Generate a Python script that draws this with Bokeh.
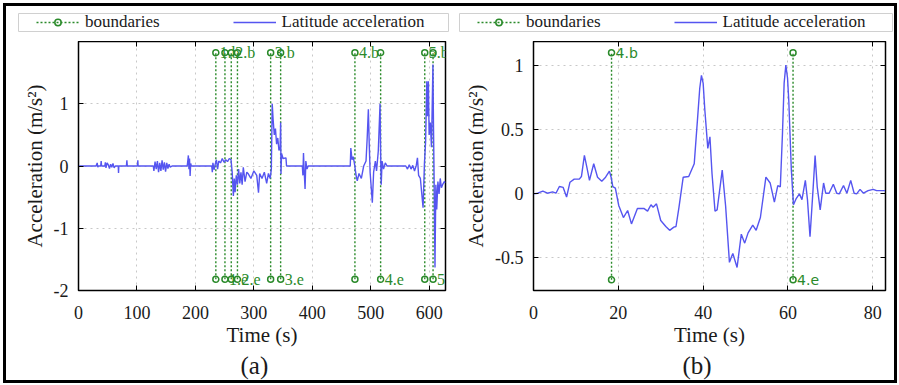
from bokeh.plotting import figure
from bokeh.models import (Range1d, FixedTicker, LinearAxis, Legend, LegendItem,
                          Label, CustomJSTickFormatter, Title)
from bokeh.layouts import row, column
from bokeh.embed import file_html
from bokeh.resources import INLINE

# ---------------- data ----------------
time_a = [0, 30, 32, 33, 34, 38, 38.8, 39.5, 45, 46, 47, 49, 51, 53, 55, 57, 59, 61, 63,
          68, 68.5, 69, 82, 82.8, 83.5, 101, 101.5, 102, 128, 129, 131, 133, 135, 137, 139,
          141, 143, 145, 147, 149, 151, 153, 155, 157, 160, 186, 187, 188, 189, 190, 191,
          192, 193, 228, 229, 230, 232, 234, 236, 238, 240, 243, 246, 249, 252, 255, 258,
          261, 263, 265, 266.5, 268, 270, 272, 274, 276, 278, 280, 282, 285, 288, 290, 295,
          300, 305, 308, 310, 314, 318, 322, 325, 328, 330, 331.5, 333, 335, 337, 339, 341,
          343, 345, 345.9, 346.5, 347.5, 350, 355, 356, 383, 384, 385, 386, 387.7, 389, 391,
          393, 465, 466, 468, 470, 472, 475, 477, 480, 484, 488, 492, 494, 496, 497.5, 499,
          502.8, 505, 508, 510, 513, 516, 517, 518, 519.5, 522, 525, 528, 560, 563, 566, 569,
          572, 575, 578, 580, 582, 585, 589.6, 592, 594, 596, 597, 598.7, 600, 602, 604,
          606.5, 607.5, 608.5, 610, 611.5, 613, 615, 617, 619, 621, 623, 626, 628]
accel_a = [0, 0, 0.05, -0.02, 0, 0, 0.08, 0, 0, 0.06, -0.03, 0.05, 0.02, -0.04, 0.03, -0.02,
           0.04, -0.03, 0, 0, -0.11, 0, 0, 0.09, 0, 0, 0.09, 0, 0, -0.08, 0.07, -0.05, 0.08,
           -0.1, 0.05, -0.08, 0.09, -0.06, 0.06, -0.09, 0.05, -0.04, 0.03, -0.02, 0, 0, 0.08,
           0.17, -0.05, 0.12, -0.16, 0.04, 0, 0, -0.1, 0.05, -0.06, 0.03, 0.1, -0.05, 0.08,
           0.05, 0.12, 0.06, 0.1, 0.07, 0.12, 0.1, -0.1, -0.48, -0.2, -0.42, -0.15, -0.3,
           -0.05, -0.28, -0.1, -0.3, -0.02, -0.25, -0.1, -0.12, -0.2, -0.08, -0.15, -0.43,
           -0.12, -0.2, -0.1, -0.28, -0.12, -0.2, -0.05, 1.0, 0.75, 0.5, 0.6, 0.35, 0.45,
           0.25, 0.3, 0.7, -0.13, 0.2, 0.12, 0.13, 0, 0, -0.15, 0.21, -0.05, -0.37, 0.08,
           -0.05, 0, 0, 0.29, 0.1, 0.15, 0.05, -0.15, -0.24, -0.12, -0.2, 0, 0.08, 0.45, 0.91,
           0.35, -0.1, -0.59, -0.1, 0.08, -0.08, 0.24, 1.0, 0.2, -0.3, 0.08, -0.05, 0.05, 0,
           0, -0.05, 0.02, -0.05, 0.01, -0.08, 0.01, 0.13, -0.15, -0.2, -0.67, 0.05, 0.4,
           1.36, 0.8, 1.36, 0.5, 0.7, 0.3, 1.63, 0.6, -0.2, -1.63, -0.3, -0.7, -0.25, -0.45,
           -0.2, -0.35, -0.3, -0.25, -0.27]

time_b = [0, 1, 2.2, 3.3, 4.5, 5.3, 6.1, 7.0, 7.8, 8.6, 9.6, 10.8, 11.3, 12.0, 12.6, 13.2,
          14.2, 15.1, 16.1, 17.0, 17.9, 18.3, 18.7, 19.3, 20.1, 21.2, 22.2, 23.1, 24.5, 26.1,
          26.9, 27.7, 28.2, 29.0, 30.0, 31.2, 32.1, 33.1, 33.6, 34.3, 35.3, 36.6, 37.9, 38.7,
          39.2, 39.6, 40.0, 40.4, 41.1, 41.6, 42.1, 42.8, 43.3, 44.5, 45.3, 46.2, 47.0, 48.0,
          49.0, 49.8, 50.6, 51.7, 52.5, 53.5, 54.8, 55.8, 56.8, 57.6, 58.2, 58.7, 59.1, 59.5,
          59.9, 60.2, 60.8, 61.3, 61.9, 62.7, 63.3, 64.1, 64.6, 65.2, 65.9, 66.4, 66.9, 67.6,
          68.4, 68.9, 69.7, 70.7, 71.5, 72.1, 73.1, 73.9, 74.8, 75.6, 76.2, 77.0, 77.8, 78.9,
          80.1, 80.9, 82.1, 82.9]
accel_b = [-0.005, 0.0, 0.016, 0.0, 0.01, 0.0, 0.052, 0.045, -0.03, 0.086, 0.11, 0.11, 0.13,
           0.295, 0.2, 0.10, 0.23, 0.125, 0.094, 0.125, 0.172, 0.125, 0.052, 0.04, -0.096,
           -0.19, -0.135, -0.24, -0.12, -0.12, -0.14, -0.09, -0.11, -0.083, -0.213, -0.26,
           -0.29, -0.265, -0.26, -0.11, 0.125, 0.13, 0.23, 0.59, 0.82, 0.92, 0.86, 0.65,
           0.35, 0.44, 0.15, -0.14, -0.13, 0.18, -0.1, -0.54, -0.47, -0.58, -0.32, -0.39,
           -0.31, -0.25, -0.29, -0.19, 0.125, 0.08, -0.07, 0.06, 0.05, 0.46, 0.86, 1.0, 0.9,
           0.72, 0.18, -0.09, -0.045, -0.005, -0.05, 0.10, -0.05, -0.34, 0.02, 0.295, 0.05,
           -0.13, 0.08, 0.0, 0.0, 0.07, 0.0, -0.005, 0.06, 0.0, 0.10, 0.0, -0.005, 0.03, 0.0,
           0.02, 0.03, 0.02, 0.02, 0.02]

bound_begin_a = [235, 261.4, 328.8, 473, 592.5]
bound_end_a = [250.6, 272, 345.9, 517, 606.7]
labels_begin_a = ["1.b", "2.b", "3.b", "4.b", "5.b"]
labels_end_a = ["1.e", "2.e", "3.e", "4.e", "5.e"]
marker_y_a = [-1.82, 1.82]

bound_begin_b = [18.4]
bound_end_b = [61.2]
labels_begin_b = ["4.b"]
labels_end_b = ["4.e"]
marker_y_b = [-0.677, 1.097]

xticks_a = [0, 100, 200, 300, 400, 500, 600]
yticks_a = [-2, -1, 0, 1]
xticks_b = [0, 20, 40, 60, 80]
yticks_b = [-0.5, 0, 0.5, 1]

legend_labels = ["boundaries", "Latitude acceleration"]

# ---------------- style ----------------
SERIF = "Liberation Serif"
SANS = "DejaVu Sans"
GREEN = "#2a8a2a"
BLUE = "#5555f0"
INK = "#1a1a1a"
SEG_STYLE = dict(line_color=GREEN, line_dash="2 2", line_width=1.4)
MARK_STYLE = dict(marker="circle", size=6, fill_color=None, line_color=GREEN, line_width=1.5)
LINE_STYLE = dict(line_color=BLUE, line_width=1.4)
WHITE_HOST = {"background-color": "white"}


def make_legend_fig(width, margin, b_left, b_right, legend_x, t, v, begins, marker_y):
    # the frame of this small figure is the legend's box; the data lie outside its x range
    f = figure(width=width, height=35, output_backend="svg", toolbar_location=None,
               x_range=Range1d(-2, -1), y_range=Range1d(-1, 1),
               min_border_left=b_left, min_border_right=b_right,
               min_border_top=7, min_border_bottom=10, margin=margin, styles=WHITE_HOST)
    f.axis.visible = False
    f.grid.visible = False
    f.outline_line_color = "#d0d0d0"
    f.outline_line_width = 1
    f.background_fill_color = "white"
    f.border_fill_color = "white"
    n = len(begins)
    seg = f.segment(x0=begins, y0=[marker_y[0]] * n, x1=begins, y1=[marker_y[1]] * n,
                    **SEG_STYLE)
    sc = f.scatter(x=begins, y=[marker_y[1]] * n, **MARK_STYLE)
    ln = f.line(x=t, y=v, **LINE_STYLE)
    legend = Legend(items=[LegendItem(label=legend_labels[0], renderers=[seg, sc]),
                           LegendItem(label=legend_labels[1], renderers=[ln])],
                    orientation="horizontal", location=(legend_x, -1), padding=0,
                    spacing=73, label_standoff=6, glyph_width=43, glyph_height=16,
                    label_height=16, margin=0,
                    label_text_font=SERIF, label_text_font_size="17px",
                    label_text_color=INK,
                    border_line_color=None, background_fill_alpha=0)
    f.add_layout(legend)
    return f


def make_panel(width, margin, border_left, border_right, x_end, y_lim, xticks, yticks,
               t, v, begins, ends, lab_b, lab_e, marker_y, lab_font, lab_size,
               caption, caption_offset):
    p = figure(width=width, height=339, output_backend="svg", toolbar_location=None,
               x_range=Range1d(0, x_end), y_range=Range1d(y_lim[0], y_lim[1]),
               min_border_left=border_left, min_border_right=border_right,
               min_border_top=0, min_border_bottom=90, margin=margin, styles=WHITE_HOST)
    p.background_fill_color = "white"
    p.border_fill_color = "white"
    p.outline_line_color = "black"
    p.outline_line_width = 1.5
    p.outline_line_alpha = 1

    fmt = "return tick.toString();"
    xa = p.xaxis[0]
    ya = p.yaxis[0]
    xa.ticker = FixedTicker(ticks=xticks)
    ya.ticker = FixedTicker(ticks=yticks)
    for ax in (xa, ya):
        ax.formatter = CustomJSTickFormatter(code=fmt)
        ax.major_tick_in = 5
        ax.major_tick_out = 0
        ax.minor_tick_line_color = None
        ax.axis_line_color = "black"
        ax.major_tick_line_color = "black"
        ax.major_label_text_font = SERIF
        ax.major_label_text_font_size = "18px"
        ax.major_label_text_color = INK
        ax.axis_label_text_font = SERIF
        ax.axis_label_text_font_size = "21px"
        ax.axis_label_text_font_style = "normal"
        ax.axis_label_text_color = INK
    xa.axis_label = "Time (s)"
    ya.axis_label = "Acceleration (m/s²)"
    xa.major_label_standoff = 15
    xa.axis_label_standoff = 1
    ya.major_label_standoff = 10
    ya.axis_label_standoff = 4

    p.xgrid.ticker = FixedTicker(ticks=xticks)
    p.ygrid.ticker = FixedTicker(ticks=yticks)
    for g in (p.xgrid, p.ygrid):
        g.grid_line_color = "#c8c8c8"
        g.grid_line_dash = "dotted"
        g.grid_line_width = 1

    # mirrored inward tick marks on the right and top edges
    for loc, ticks in (("right", yticks), ("above", xticks)):
        ax = LinearAxis(ticker=FixedTicker(ticks=ticks), major_label_text_font_size="0px",
                        major_label_standoff=0, major_tick_in=5, major_tick_out=0,
                        minor_tick_line_color=None, axis_line_color=None,
                        major_tick_line_color="black")
        p.add_layout(ax, loc)

    bounds = list(begins) + list(ends)
    n = len(bounds)
    p.segment(x0=bounds, y0=[marker_y[0]] * n, x1=bounds, y1=[marker_y[1]] * n, **SEG_STYLE)
    p.scatter(x=bounds + bounds, y=[marker_y[1]] * n + [marker_y[0]] * n, **MARK_STYLE)
    p.line(t, v, **LINE_STYLE)

    for x, s in zip(begins, lab_b):
        p.add_layout(Label(x=x, y=marker_y[1], text=s, x_offset=4, text_align="left",
                           text_baseline="middle", text_color=GREEN, text_font=lab_font,
                           text_font_size=lab_size))
    for x, s in zip(ends, lab_e):
        p.add_layout(Label(x=x, y=marker_y[0], text=s, x_offset=4, text_align="left",
                           text_baseline="middle", text_color=GREEN, text_font=lab_font,
                           text_font_size=lab_size))

    p.add_layout(Title(text=caption, align="left", offset=caption_offset, standoff=0,
                       text_font=SERIF, text_font_size="25px", text_font_style="normal",
                       text_color=INK), "below")
    return p


leg_a = make_legend_fig(444, (3, 0, 0, 3), 12, 2, 18, time_a, accel_a, bound_begin_a,
                        marker_y_a)
leg_b = make_legend_fig(444, (3, 3, 0, 0), 9, 2, 18, time_b, accel_b, bound_begin_b,
                        marker_y_b)
pa = make_panel(444, (0, 0, 3, 3), 72, 5, 628, (-2, 2), xticks_a, yticks_a, time_a,
                accel_a, bound_begin_a, bound_end_a, labels_begin_a, labels_end_a,
                marker_y_a, SERIF, "16px", "(a)", 162)
pb = make_panel(444, (0, 3, 3, 0), 83, 9, 83, (-0.76, 1.185), xticks_b, yticks_b, time_b,
                accel_b, bound_begin_b, bound_end_b, labels_begin_b, labels_end_b,
                marker_y_b, SANS, "14px", "(b)", 149)

layout = column(row(leg_a, leg_b), row(pa, pb), margin=(3, 2, 2, 3),
                styles={"background-color": "black"})

open("out.html", "w").write(file_html(layout, INLINE))
